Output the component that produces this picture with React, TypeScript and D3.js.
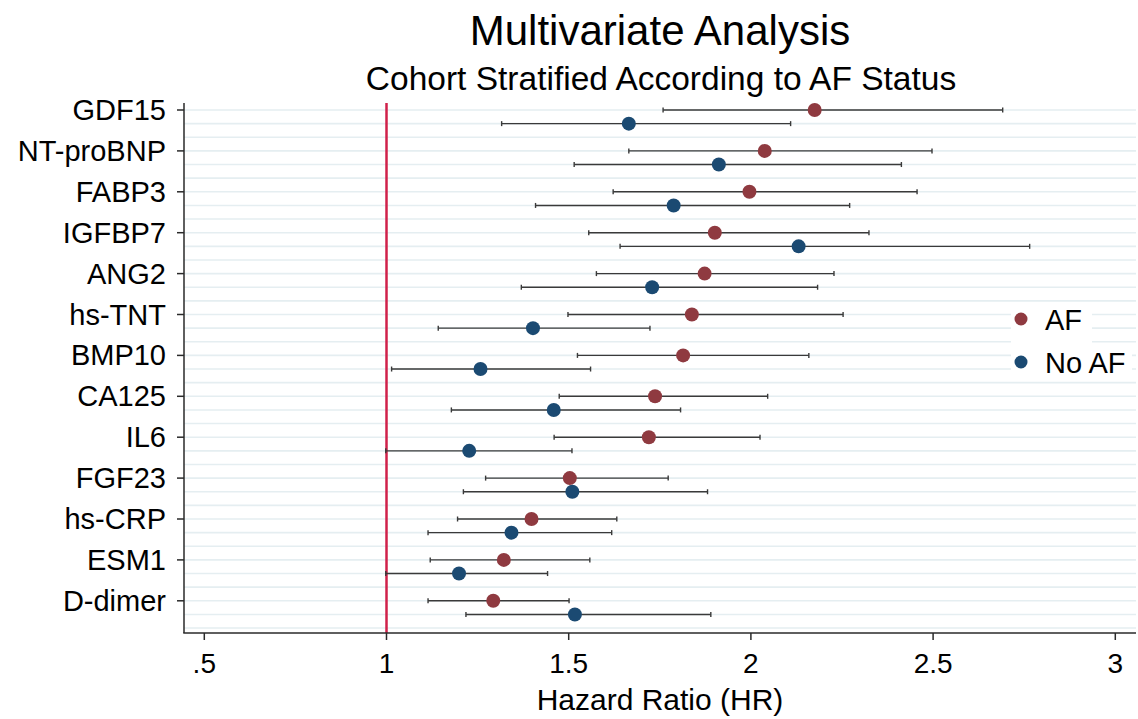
import React from "react";
import * as d3 from "d3";

const categories = ["GDF15", "NT-proBNP", "FABP3", "IGFBP7", "ANG2", "hs-TNT", "BMP10", "CA125", "IL6", "FGF23", "hs-CRP", "ESM1", "D-dimer"];
const afHR = [2.175, 2.038, 1.996, 1.901, 1.873, 1.838, 1.814, 1.737, 1.720, 1.503, 1.398, 1.322, 1.293];
const afLo = [1.759, 1.665, 1.622, 1.555, 1.576, 1.498, 1.524, 1.474, 1.460, 1.272, 1.195, 1.120, 1.114];
const afHi = [2.691, 2.497, 2.456, 2.324, 2.228, 2.253, 2.159, 2.046, 2.025, 1.773, 1.632, 1.558, 1.501];
const noAfHR = [1.665, 1.912, 1.788, 2.131, 1.729, 1.402, 1.258, 1.459, 1.227, 1.510, 1.343, 1.199, 1.517];
const noAfLo = [1.316, 1.515, 1.409, 1.641, 1.370, 1.142, 1.014, 1.178, 0.998, 1.211, 1.114, 0.998, 1.218];
const noAfHi = [2.109, 2.413, 2.271, 2.765, 2.183, 1.723, 1.560, 1.807, 1.509, 1.881, 1.618, 1.442, 1.890];
const xTicks = [0.5, 1, 1.5, 2, 2.5, 3];
const xTickLabels = [".5", "1", "1.5", "2", "2.5", "3"];
const seriesNames = ["AF", "No AF"];

const W = 1138, H = 719;
const FONT = "'Liberation Sans', Arial, Helvetica, sans-serif";
const AF_COLOR = "#8f3a40";
const NOAF_COLOR = "#1b4a72";
const REF_COLOR = "#d0214a";
const GRID = "#e5eef1";
const CI = "#3a3a3a";
const AXIS = "#2a2a2a";

function T({ x, y, size, anchor = "middle", children }: any) {
  return (
    <text x={x} y={y} fontSize={size} fontFamily={FONT} textAnchor={anchor} fill="#000">{children}</text>
  );
}

export default function App() {
  const axisX = 184;
  const axisY = 633;
  const plotRight = 1136;
  const plotTop = 103;
  const x = d3.scaleLinear().domain([0.5, 3]).range([204.3, 1115.3]);
  const y = d3.scaleLinear().domain([0, 12]).range([110, 600.8]);
  const gridVals = d3.range(0, 39).map((k) => k / 3);
  const off = 1 / 3;
  const capH = 2.5;

  const series = [
    { hr: afHR, lo: afLo, hi: afHi, color: AF_COLOR, shift: 0 },
    { hr: noAfHR, lo: noAfLo, hi: noAfHi, color: NOAF_COLOR, shift: off },
  ];

  return (
    <svg width={W} height={H} style={{ position: "absolute", left: 0, top: 0, background: "#fff" }}>
      <rect x={0} y={0} width={W} height={H} fill="#fff" />
      {gridVals.map((g, i) => (
        <line key={"g" + i} x1={axisX} x2={plotRight} y1={y(g)} y2={y(g)} stroke={GRID} strokeWidth={1.6} />
      ))}
      <line x1={x(1)} x2={x(1)} y1={plotTop} y2={axisY} stroke={REF_COLOR} strokeWidth={2.5} />
      {series.map((s, si) =>
        categories.map((c, i) => {
          const yy = y(i + s.shift);
          return (
            <g key={`ci${si}-${i}`}>
              <line x1={x(s.lo[i])} x2={x(s.hi[i])} y1={yy} y2={yy} stroke={CI} strokeWidth={1.4} />
              <line x1={x(s.lo[i])} x2={x(s.lo[i])} y1={yy - capH} y2={yy + capH} stroke={CI} strokeWidth={1.4} />
              <line x1={x(s.hi[i])} x2={x(s.hi[i])} y1={yy - capH} y2={yy + capH} stroke={CI} strokeWidth={1.4} />
            </g>
          );
        })
      )}
      {series.map((s, si) =>
        categories.map((c, i) => (
          <circle key={`pt${si}-${i}`} cx={x(s.hr[i])} cy={y(i + s.shift)} r={7} fill={s.color} />
        ))
      )}
      {/* axes */}
      <line x1={axisX} x2={axisX} y1={plotTop} y2={axisY} stroke={AXIS} strokeWidth={1.5} />
      <line x1={axisX - 0.75} x2={plotRight} y1={axisY} y2={axisY} stroke={AXIS} strokeWidth={1.5} />
      {categories.map((c, i) => (
        <g key={"yt" + i}>
          <line x1={axisX - 7} x2={axisX} y1={y(i)} y2={y(i)} stroke={AXIS} strokeWidth={1.5} />
          <T x={166} y={y(i) + 10} size={29} anchor="end">{c}</T>
        </g>
      ))}
      {xTicks.map((t, i) => (
        <g key={"xt" + i}>
          <line x1={x(t)} x2={x(t)} y1={axisY} y2={axisY + 7} stroke={AXIS} strokeWidth={1.5} />
          <T x={x(t)} y={673} size={28}>{xTickLabels[i]}</T>
        </g>
      ))}
      <T x={660} y={710} size={30}>Hazard Ratio (HR)</T>
      {/* titles */}
      <T x={660} y={45} size={42}>Multivariate Analysis</T>
      <T x={661} y={90} size={33.5}>Cohort Stratified According to AF Status</T>
      {/* legend */}
      <rect x={1011} y={307} width={81} height={40} fill="#fff" />
      <rect x={1011} y={349} width={121} height={29} fill="#fff" />
      <circle cx={1021} cy={319} r={6.5} fill={AF_COLOR} />
      <T x={1045} y={330} size={29} anchor="start">{seriesNames[0]}</T>
      <circle cx={1021} cy={362} r={6.5} fill={NOAF_COLOR} />
      <T x={1045} y={373} size={29} anchor="start">{seriesNames[1]}</T>
    </svg>
  );
}
